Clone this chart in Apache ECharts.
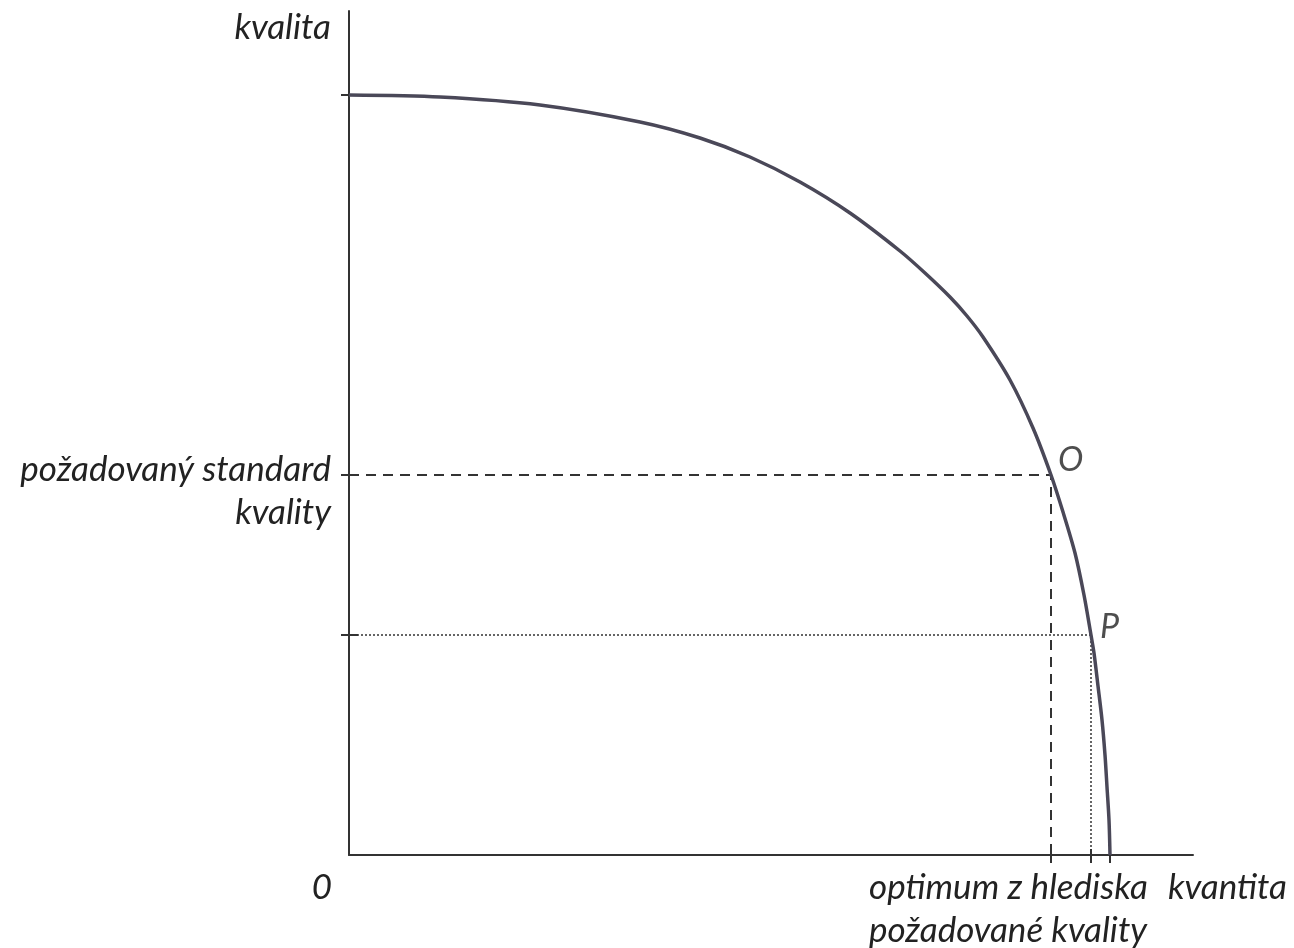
<!DOCTYPE html>
<html>
<head>
<meta charset="utf-8">
<script src="https://cdn.jsdelivr.net/npm/echarts@6/dist/echarts.min.js"></script>
<style>html,body{margin:0;padding:0;background:#fff}#c{width:1294px;height:948px}</style>
</head>
<body>
<div id="c"></div>
<script>
// curve: [kvantita, kvalita]
const curvePoints = [
  [0,760],[91,758],[191,750],[291,733],[351,717],[401,698],[451,673],[501,642],
  [551,604],[576,582],[601,558],[618,539],[634,518],[661,475],[684,427],[702,380],[714,343],[726,302],
  [735,260],[742,220],[745,202],[749,169],[753,135],[756,100],[758,68],[760,35],[761,0]
];
const pointO = [702, 380];
const pointP = [742, 220];
const yTicks = [220, 380, 760];
const xTicks = [702, 742, 761];
const axisMax = 844;

const font = 'Lato, "Open Sans", sans-serif';
const txt = 'italic 35px ' + font;
const chart = echarts.init(document.getElementById('c'));
const base = {type: 'value', min: 0, max: axisMax, splitLine: {show: false}, axisLabel: {show: false}};
const axisLine = {show: true, onZero: false, lineStyle: {color: '#333', width: 2}};
const tickStyle = {color: '#333', width: 2};
// inner halves of the ticks (ticks cross the axis)
const innerTickLen = 9;
const innerTicks = yTicks.map(v => [{coord: [0, v]}, {coord: [innerTickLen, v]}])
  .concat(xTicks.map(v => [{coord: [v, 0]}, {coord: [v, 6]}]));
chart.setOption({
  animation: false,
  grid: {left: 349, top: 11, width: 844, height: 844},
  xAxis: Object.assign({}, base, {axisLine: axisLine,
    axisTick: {show: true, customValues: xTicks, length: 8, lineStyle: tickStyle}}),
  yAxis: Object.assign({}, base, {axisLine: axisLine,
    axisTick: {show: true, customValues: yTicks, length: 8, lineStyle: tickStyle}}),
  series: [
    {type: 'line', data: [[0, pointO[1]], pointO, [pointO[0], 0]], symbol: 'none', z: 2,
      lineStyle: {color: '#333', width: 2, type: [10, 7]},
      markLine: {silent: true, symbol: 'none', label: {show: false}, animation: false,
        lineStyle: {color: '#333', width: 2, type: 'solid'}, data: innerTicks}},
    {type: 'line', data: [[0, pointP[1]], pointP, [pointP[0], 0]], symbol: 'none', z: 2,
      lineStyle: {color: '#333', width: 1.5, type: [2, 2]}},
    {type: 'line', data: curvePoints, smooth: 0.3, symbol: 'none', z: 5,
      lineStyle: {color: '#4a4858', width: 3.5}},
    {type: 'scatter', symbolSize: 0, z: 6,
      data: [
        {value: pointO, label: {show: true, formatter: 'O', position: 'right', offset: [2, -15]}},
        {value: pointP, label: {show: true, formatter: 'P', position: 'right', offset: [4, -8]}}
      ],
      label: {color: '#222', fontSize: 34, fontStyle: 'italic', fontFamily: font}}
  ],
  graphic: [
    {type: 'text', x: 331, y: 28, style: {text: 'kvalita', fill: '#222', font: txt, textAlign: 'right', textVerticalAlign: 'middle'}},
    {type: 'text', x: 331, y: 470, style: {text: 'požadovaný standard', fill: '#222', font: txt, textAlign: 'right', textVerticalAlign: 'middle'}},
    {type: 'text', x: 331, y: 513, style: {text: 'kvality', fill: '#222', font: txt, textAlign: 'right', textVerticalAlign: 'middle'}},
    {type: 'text', x: 322, y: 888, style: {text: '0', fill: '#222', font: txt, textAlign: 'center', textVerticalAlign: 'middle'}},
    {type: 'text', x: 869, y: 888, style: {text: 'optimum z hlediska', fill: '#222', font: txt, textAlign: 'left', textVerticalAlign: 'middle'}},
    {type: 'text', x: 869, y: 931, style: {text: 'požadované kvality', fill: '#222', font: txt, textAlign: 'left', textVerticalAlign: 'middle'}},
    {type: 'text', x: 1168, y: 888, style: {text: 'kvantita', fill: '#222', font: txt, textAlign: 'left', textVerticalAlign: 'middle'}}
  ]
});
</script>
</body>
</html>
